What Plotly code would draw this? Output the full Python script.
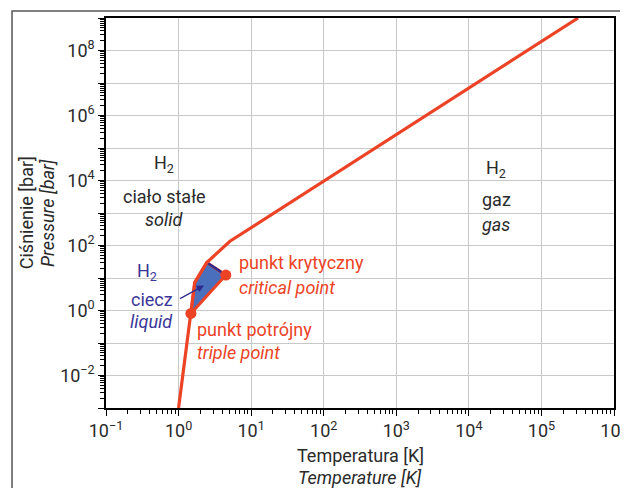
import plotly.graph_objects as go

# ---- data ----
boundary_T = [1.0, 1.48, 1.67, 2.45, 5.1, 3.2e5]
boundary_P = [1e-3, 0.81, 7.3, 30, 135, 1e9]

liquid_T = [1.48, 1.67, 2.45, 4.48, 1.48]
liquid_P = [0.81, 7.3, 30, 12.3, 0.81]

liquid_top_T = [2.45, 4.48]
liquid_top_P = [30, 12.3]

points_T = [1.48, 4.48]
points_P = [0.81, 12.3]

x_tickvals = [1e-1, 1e0, 1e1, 1e2, 1e3, 1e4, 1e5, 1e6]
x_ticktext = ["10<sup>−1</sup>", "10<sup>0</sup>", "10<sup>1</sup>", "10<sup>2</sup>",
              "10<sup>3</sup>", "10<sup>4</sup>", "10<sup>5</sup>", "10<sup>6</sup>"]
y_tickvals = [10.0 ** k for k in range(-3, 10)]
y_ticktext = ["", "10<sup>−2</sup>", "", "10<sup>0</sup>", "", "10<sup>2</sup>", "",
              "10<sup>4</sup>", "", "10<sup>6</sup>", "", "10<sup>8</sup>", ""]

RED = "#ec4326"
BLUE_FILL = "#4a6fbd"
BLUE_DARK = "#2e2a8c"
BLUE_TEXT = "#3a3798"
TXT = "#2a2a2a"
FONT = "Roboto, Liberation Sans, sans-serif"

fig = go.Figure()
fig.add_trace(go.Scatter(x=liquid_T, y=liquid_P, fill="toself", fillcolor=BLUE_FILL,
                         mode="lines", line=dict(color=RED, width=3), hoverinfo="skip"))
fig.add_trace(go.Scatter(x=liquid_top_T, y=liquid_top_P, mode="lines",
                         line=dict(color=BLUE_DARK, width=2.5)))
fig.add_trace(go.Scatter(x=boundary_T, y=boundary_P, mode="lines",
                         line=dict(color=RED, width=3.2)))
fig.add_trace(go.Scatter(x=points_T, y=points_P, mode="markers",
                         marker=dict(color=RED, size=11)))

def ann(x, y, text, color=TXT, size=18, xanchor="center", italic=False):
    if italic:
        text = "<i>" + text + "</i>"
    fig.add_annotation(x=x, y=y, xref="x", yref="y", text=text, showarrow=False,
                       font=dict(family=FONT, size=size, color=color), xanchor=xanchor)

# solid
ann(-0.20, 4.51, "H<sub>2</sub>")
ann(-0.20, 3.52, "ciało stałe")
ann(-0.20, 2.81, "solid", italic=True)
# gas
ann(4.38, 4.35, "H<sub>2</sub>")
ann(4.38, 3.43, "gaz")
ann(4.38, 2.65, "gas", italic=True)
# liquid
ann(-0.436, 1.20, "H<sub>2</sub>", color=BLUE_TEXT)
ann(-0.367, 0.34, "ciecz", color=BLUE_TEXT)
ann(-0.367, -0.34, "liquid", color=BLUE_TEXT, italic=True)
# critical point
ann(0.80, 1.48, "punkt krytyczny", color=RED, xanchor="left")
ann(0.80, 0.71, "critical point", color=RED, xanchor="left", italic=True)
# triple point
ann(0.22, -0.59, "punkt potrójny", color=RED, xanchor="left")
ann(0.22, -1.30, "triple point", color=RED, xanchor="left", italic=True)

# arrow from "ciecz" to liquid region
fig.add_annotation(x=0.35, y=0.77, ax=-0.0, ay=0.34, xref="x", yref="y", axref="x", ayref="y",
                   text="", showarrow=True, arrowhead=2, arrowsize=1.2, arrowwidth=1.2,
                   arrowcolor=BLUE_DARK, standoff=0)

# axis titles
for txt, y in [("Temperatura [K]", -0.123), ("<i>Temperature [K]</i>", -0.177)]:
    fig.add_annotation(x=0.5, y=y, xref="paper", yref="paper", text=txt, showarrow=False,
                       font=dict(family=FONT, size=18, color=TXT), yanchor="middle")
for txt, x in [("Ciśnienie [bar]", -0.157), ("<i>Pressure [bar]</i>", -0.116)]:
    fig.add_annotation(x=x, y=0.5, xref="paper", yref="paper", text=txt, showarrow=False,
                       textangle=-90, font=dict(family=FONT, size=18, color=TXT),
                       xanchor="center")

# outer frame
fig.add_shape(type="rect", xref="paper", yref="paper", x0=-0.185, x1=1.2, y0=-0.4, y1=1.018,
              line=dict(color="#555555", width=1.5), layer="below")

axis_common = dict(type="log", showline=True, linecolor="black", linewidth=1.5, mirror=True,
                   showgrid=True, gridcolor="#c8c8c8", gridwidth=1.2, zeroline=False,
                   ticks="outside", ticklen=6, tickcolor="black", tickwidth=1,
                   tickmode="array", automargin=False,
                   tickfont=dict(family=FONT, size=18, color=TXT),
                   minor=dict(ticks="outside", ticklen=4, tickcolor="black", dtick="D1",
                              showgrid=False))

fig.update_xaxes(range=[-1, 6], tickvals=x_tickvals, ticktext=x_ticktext, **axis_common)
fig.update_yaxes(range=[-3, 9], tickvals=y_tickvals, ticktext=y_ticktext, **axis_common)

fig.update_layout(width=620, height=480, margin=dict(l=98, r=14, t=10, b=80),
                  plot_bgcolor="white", paper_bgcolor="white", showlegend=False,
                  font=dict(family=FONT, size=18, color=TXT))

fig.write_html("out.html")
